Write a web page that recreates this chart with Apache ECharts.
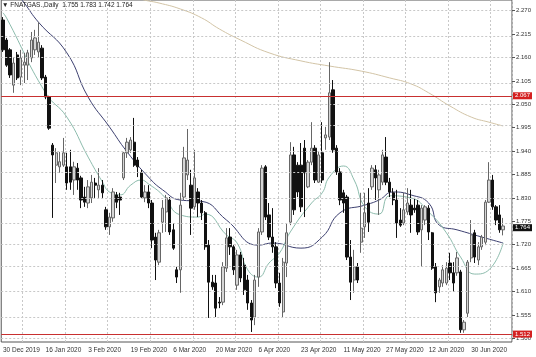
<!DOCTYPE html>
<html><head><meta charset="utf-8">
<script src="https://cdn.jsdelivr.net/npm/echarts@6/dist/echarts.min.js"></script>
<style>html,body{margin:0;padding:0;background:#fff}#c{width:536px;height:357px}</style>
</head><body><div id="c"></div>
<script>
const symbolName = "FNATGAS.,Daily";
const tickLabels = ["30 Dec 2019","16 Jan 2020","3 Feb 2020","19 Feb 2020","6 Mar 2020","20 Mar 2020","6 Apr 2020","23 Apr 2020","11 May 2020","27 May 2020","12 Jun 2020","30 Jun 2020"];
const barsPerLabel = 12;
const slotCount = 144;
const open = [
2.248,2.201,2.178,2.095,2.166,2.114,2.142,2.142,2.159,2.178,
2.173,2.182,2.114,2.067,1.954,1.907,1.903,1.907,1.903,1.903,
1.872,1.900,1.877,1.832,1.818,1.830,1.865,1.849,1.860,1.802,
1.762,1.783,1.837,1.832,1.877,1.936,1.943,1.961,1.919,1.889,
1.830,1.844,1.818,1.738,1.679,1.773,1.797,1.825,1.755,1.661,
1.661,1.832,1.884,1.860,1.809,1.844,1.818,1.795,1.719,1.632,
1.630,1.585,1.585,1.665,1.738,1.715,1.625,1.696,1.672,1.637,
1.583,1.550,1.644,1.750,1.903,1.790,1.738,1.715,1.630,1.562,
1.677,1.773,1.931,1.907,1.907,1.947,1.856,1.914,1.947,1.867,
1.936,1.971,1.973,2.084,1.947,1.891,1.842,1.832,1.691,1.637,
1.668,1.726,1.762,1.818,1.856,1.896,1.849,1.867,1.926,1.867,
1.842,1.825,1.778,1.771,1.797,1.813,1.806,1.813,1.755,1.778,
1.806,1.748,1.668,1.621,1.630,1.630,1.677,1.654,1.654,1.656,
1.520,1.559,1.689,1.748,1.684,1.715,1.726,1.820,1.872,1.809,
1.790,1.755];
const high = [
2.255,2.206,2.182,2.161,2.173,2.178,2.171,2.178,2.220,2.225,
2.243,2.189,2.119,2.070,1.959,1.947,1.938,1.971,1.936,1.943,
1.915,1.912,1.882,1.856,1.872,1.884,1.877,1.900,1.872,1.809,
1.795,1.853,1.844,1.842,1.938,1.971,1.973,2.018,1.926,1.896,
1.860,1.860,1.825,1.748,1.755,1.825,1.837,1.832,1.771,1.668,
1.842,1.950,1.992,1.896,1.943,1.853,1.825,1.799,1.731,1.649,
1.649,1.597,1.679,1.759,1.759,1.719,1.708,1.703,1.689,1.649,
1.590,1.649,1.759,1.907,1.907,1.818,1.806,1.726,1.654,1.689,
1.771,1.961,1.950,1.914,1.959,1.966,1.919,2.008,1.954,1.938,
2.008,1.997,2.149,2.107,1.954,1.900,1.849,1.837,1.731,1.708,
1.677,1.842,1.842,1.853,1.907,1.907,1.896,1.943,1.973,1.877,
1.853,1.849,1.806,1.842,1.853,1.849,1.830,1.825,1.813,1.813,
1.813,1.750,1.677,1.642,1.672,1.679,1.701,1.679,1.703,1.661,
1.543,1.684,1.778,1.755,1.726,1.743,1.825,1.914,1.884,1.813,
1.813,1.783];
const low = [
2.173,2.138,2.112,2.077,2.107,2.095,2.100,2.107,2.149,2.166,
2.161,2.107,2.062,1.990,1.783,1.865,1.889,1.903,1.849,1.849,
1.837,1.849,1.806,1.809,1.806,1.818,1.830,1.830,1.830,1.755,
1.743,1.774,1.806,1.790,1.872,1.924,1.936,1.903,1.879,1.830,
1.820,1.806,1.712,1.637,1.672,1.748,1.750,1.743,1.708,1.630,
1.607,1.825,1.872,1.743,1.802,1.785,1.778,1.708,1.548,1.614,
1.550,1.571,1.578,1.656,1.696,1.649,1.614,1.632,1.602,1.567,
1.515,1.531,1.621,1.743,1.778,1.731,1.701,1.618,1.574,1.550,
1.644,1.766,1.790,1.832,1.797,1.785,1.853,1.907,1.865,1.865,
1.865,1.943,1.966,1.936,1.884,1.813,1.795,1.684,1.590,1.607,
1.630,1.701,1.736,1.750,1.849,1.825,1.790,1.860,1.860,1.832,
1.813,1.736,1.762,1.766,1.790,1.748,1.795,1.743,1.668,1.766,
1.731,1.661,1.585,1.607,1.621,1.625,1.637,1.609,1.647,1.513,
1.513,1.550,1.679,1.677,1.672,1.708,1.719,1.818,1.802,1.766,
1.748,1.742];
const close = [
2.178,2.142,2.119,2.147,2.112,2.159,2.149,2.171,2.201,2.206,
2.196,2.112,2.067,1.994,1.931,1.936,1.915,1.936,1.865,1.867,
1.903,1.872,1.825,1.820,1.856,1.867,1.860,1.860,1.842,1.762,
1.785,1.844,1.820,1.825,1.936,1.961,1.966,1.907,1.903,1.832,
1.844,1.818,1.731,1.684,1.748,1.806,1.830,1.750,1.712,1.644,
1.813,1.924,1.919,1.806,1.877,1.818,1.795,1.715,1.632,1.621,
1.571,1.583,1.668,1.736,1.715,1.661,1.696,1.642,1.614,1.583,
1.543,1.637,1.750,1.900,1.785,1.738,1.715,1.630,1.583,1.679,
1.748,1.931,1.802,1.844,1.809,1.889,1.914,1.947,1.872,1.931,
1.872,1.978,2.077,1.943,1.891,1.825,1.818,1.691,1.632,1.668,
1.637,1.759,1.795,1.773,1.900,1.877,1.884,1.931,1.867,1.844,
1.825,1.771,1.766,1.802,1.818,1.790,1.802,1.750,1.806,1.809,
1.750,1.665,1.607,1.637,1.661,1.665,1.654,1.630,1.689,1.520,
1.538,1.679,1.743,1.691,1.715,1.738,1.820,1.872,1.809,1.778,
1.755,1.764];
// moving averages: [bar index, value]
const maSlow = [[30,2.323],[39,2.297],[44,2.288],[50,2.274],[56,2.253],[61,2.227],[67,2.201],[75,2.171],[84,2.152],[92,2.140],[101,2.128],[109,2.112],[115,2.098],[120,2.077],[126,2.046],[132,2.020],[137,2.008],[141,1.999]];
const maMid = [[0,2.354],[6,2.288],[10,2.243],[18,2.171],[24,2.067],[30,1.997],[35,1.938],[41,1.879],[45,1.849],[50,1.825],[56,1.822],[63,1.778],[72,1.719],[76,1.724],[84,1.712],[90,1.738],[95,1.795],[102,1.813],[106,1.825],[110,1.844],[115,1.837],[120,1.818],[123,1.766],[128,1.755],[135,1.738],[141,1.724]];
const maFast = [[0,2.265],[1,2.253],[12,2.077],[18,2.020],[24,1.926],[28,1.868],[30,1.844],[33,1.837],[36,1.860],[39,1.872],[41,1.863],[45,1.837],[50,1.790],[55,1.785],[57,1.792],[63,1.743],[66,1.724],[69,1.661],[72,1.644],[75,1.677],[78,1.701],[81,1.750],[87,1.818],[90,1.842],[92,1.879],[96,1.905],[99,1.872],[102,1.809],[106,1.792],[109,1.835],[115,1.830],[120,1.797],[125,1.748],[129,1.691],[133,1.651],[137,1.661],[141,1.724]];
const yTicks = [1.500,1.555,1.610,1.665,1.720,1.775,1.830,1.885,1.940,1.995,2.050,2.105,2.160,2.215,2.270];
const levels = [2.067, 1.512];
const yMin = 1.4914, yMax = 2.2951;

const n = open.length;
const candles = open.map((o,i)=>[o, close[i], low[i], high[i]]);
const cats = Array.from({length: slotCount}, (_, i) => i);
const last = n - 1;
const font = 'Liberation Sans';

const chart = echarts.init(document.getElementById('c'), null, {renderer:'canvas'});
chart.setOption({
  animation: false,
  backgroundColor: '#fff',
  title: {
    text: '\u25BC ' + symbolName + '  ' + [open[last],high[last],low[last],close[last]].map(v=>v.toFixed(3)).join(' '),
    left: 2, top: 2, padding: 0,
    textStyle: {fontSize: 6.5, fontWeight: 'normal', color: '#222', fontFamily: font}
  },
  grid: {left: 0, right: 24, top: 0, bottom: 15, show: true, borderColor: '#555', borderWidth: 1, backgroundColor: '#fff'},
  xAxis: {
    type: 'category', data: cats, boundaryGap: true,
    axisLine: {show: false}, axisTick: {show: false},
    axisLabel: {
      interval: (i) => i % barsPerLabel === 0 && i / barsPerLabel < tickLabels.length,
      formatter: (v, i) => tickLabels[Math.round(i / barsPerLabel)] || '',
      align: 'left', fontSize: 6.5, color: '#333', fontFamily: font, margin: 5
    },
    splitLine: {show: true, interval: (i) => i % barsPerLabel === 6, lineStyle: {color: '#c8c8c8', type: [2,2], width: 1}}
  },
  yAxis: {
    type: 'value', position: 'right', min: yMin, max: yMax, scale: true,
    axisLine: {show: false},
    axisTick: {show: true, length: 3, customValues: yTicks, lineStyle: {color: '#555'}},
    axisLabel: {customValues: yTicks, formatter: v => v.toFixed(3), fontSize: 6, color: '#333', fontFamily: font, margin: 4},
    splitLine: {show: false}
  },
  series: [
    {type: 'line', data: [], silent: true, z: 1,
     markLine: {silent: true, symbol: ['none','none'], animation: false, label: {show: false},
       lineStyle: {color: '#c8c8c8', type: [2,2], width: 1},
       data: yTicks.map(v => ({yAxis: v}))}},
    {type: 'line', data: maSlow, smooth: true, showSymbol: false, silent: true, z: 3,
     lineStyle: {color: '#d2c4a6', width: 1}},
    {type: 'line', data: maMid, smooth: true, showSymbol: false, silent: true, z: 3,
     lineStyle: {color: '#3d4070', width: 1}},
    {type: 'line', data: maFast, smooth: true, showSymbol: false, silent: true, z: 3,
     lineStyle: {color: '#8dbcad', width: 1}},
    {type: 'candlestick', data: candles, barWidth: 2.8, z: 4,
     itemStyle: {color: '#d6d6d6', color0: '#111111', borderColor: '#666666', borderColor0: '#111111', borderWidth: 1}},
    {type: 'line', data: [], silent: true, z: 6,
     markLine: {silent: true, symbol: ['none','none'], animation: false,
       data: levels.map(v => ({yAxis: v,
         lineStyle: {color: '#c83030', width: 1, type: 'solid'},
         label: {show: true, position: 'end', formatter: v.toFixed(3), color: '#fff', backgroundColor: '#d42020', fontSize: 6, fontFamily: font, padding: [1,2,0,2], distance: 1}
       })).concat([{yAxis: close[last],
         lineStyle: {color: 'rgba(0,0,0,0)', width: 1, type: 'solid'},
         label: {show: true, position: 'end', formatter: close[last].toFixed(3), color: '#fff', backgroundColor: '#111', fontSize: 6, fontFamily: font, padding: [1,2,0,2], distance: 1}
       }])}}
  ]
});
</script></body></html>
